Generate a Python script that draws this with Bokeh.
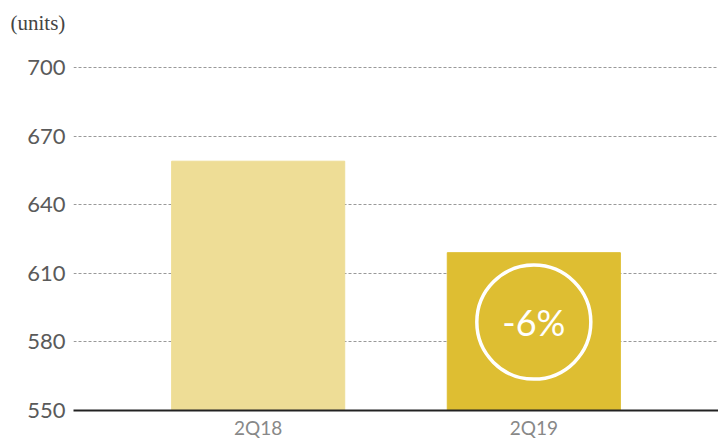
from bokeh.plotting import figure
from bokeh.models import ColumnDataSource, FactorRange, Range1d, FixedTicker
from bokeh.core.properties import value
from bokeh.embed import file_html
from bokeh.resources import INLINE

categories = ["2Q18", "2Q19"]
units = [659, 619]
colors = ["#EEDD96", "#DEBE32"]
y_ticks = [550, 580, 610, 640, 670, 700]
change_label = "-6%"
unit_label = "(units)"

src = ColumnDataSource(dict(cat=categories, val=units, color=colors))

p = figure(width=718, height=443, output_backend="svg", toolbar_location=None,
           x_range=FactorRange(*categories, range_padding=0.17, range_padding_units="absolute"),
           y_range=Range1d(550, 700.4),
           min_border_left=73, min_border_right=0, min_border_top=66, min_border_bottom=33,
           title=unit_label + "\n\u00a0")
p.outline_line_color = None
p.background_fill_color = "white"
p.border_fill_color = "white"

p.title.align = "left"
p.title.offset = -63
p.title.standoff = 16
p.title.text_font = "Liberation Serif"
p.title.text_font_size = "21px"
p.title.text_font_style = "normal"
p.title.text_color = "#444444"

p.vbar(x="cat", top="val", bottom=550, width=0.628, color="color", source=src)

# change indicator in the 2Q19 bar
cy = 550 + 0.56 * (units[1] - 550)
p.scatter(x=[categories[1]], y=[cy], marker="circle", size=114,
          fill_color=None, line_color="white", line_width=3.5)
p.text(x=[categories[1]], y=[cy], text=[change_label], text_color="white",
       text_font=value("Lato"), text_font_size="36px",
       text_align="center", text_baseline="middle")

# y axis
p.yaxis.ticker = FixedTicker(ticks=y_ticks)
p.yaxis.axis_line_color = None
p.yaxis.major_tick_line_color = None
p.yaxis.minor_tick_line_color = None
p.yaxis.major_tick_out = 0
p.yaxis.major_label_text_font = "Lato"
p.yaxis.major_label_text_font_size = "22px"
p.yaxis.major_label_text_color = "#5a5a5a"
p.yaxis.major_label_standoff = 8

p.ygrid.grid_line_color = "#999999"
p.ygrid.grid_line_dash = "3 2"
p.ygrid.grid_line_width = 1
p.xgrid.grid_line_color = None

# x axis
p.xaxis.axis_line_color = "#222222"
p.xaxis.axis_line_width = 2
p.xaxis.major_tick_line_color = None
p.xaxis.minor_tick_line_color = None
p.xaxis.major_tick_out = 0
p.xaxis.major_label_text_font = "Lato"
p.xaxis.major_label_text_font_size = "19px"
p.xaxis.major_label_text_color = "#888888"
p.xaxis.major_label_standoff = 5

open("out.html", "w").write(file_html(p, INLINE))
